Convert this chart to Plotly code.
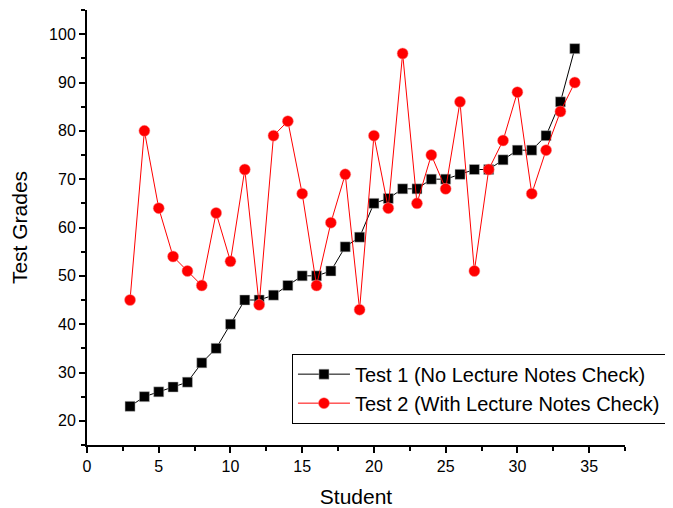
import plotly.graph_objects as go

students = list(range(3, 35))
test1 = [23, 25, 26, 27, 28, 32, 35, 40, 45, 45, 46, 48, 50, 50, 51, 56, 58, 65,
         66, 68, 68, 70, 70, 71, 72, 72, 74, 76, 76, 79, 86, 97]
test2 = [45, 80, 64, 54, 51, 48, 63, 53, 72, 44, 79, 82, 67, 48, 61, 71, 43, 79,
         64, 96, 65, 75, 68, 86, 51, 72, 78, 88, 67, 76, 84, 90]

FONT = "Liberation Sans, Arial"

fig = go.Figure()
fig.add_trace(go.Scatter(x=students, y=test1, mode="lines+markers",
                         name="Test 1 (No Lecture Notes Check)",
                         line=dict(color="black", width=1),
                         marker=dict(symbol="square", size=10, color="black",
                                     line=dict(color="#bbbbbb", width=0.5))))
fig.add_trace(go.Scatter(x=students, y=test2, mode="lines+markers",
                         name="Test 2 (With Lecture Notes Check)",
                         line=dict(color="red", width=1),
                         marker=dict(symbol="circle", size=11, color="red",
                                     line=dict(color="#ff8888", width=0.5))))

axis_common = dict(showline=True, linecolor="black", linewidth=2, ticks="outside",
                   ticklen=6, tickwidth=2, tickcolor="black", showgrid=False,
                   zeroline=False, mirror=False,
                   tickfont=dict(family=FONT, size=16, color="black"))

fig.update_layout(
    width=673, height=508,
    margin=dict(l=79, r=56, t=2, b=71, autoexpand=False),
    plot_bgcolor="white", paper_bgcolor="white",
    font=dict(family=FONT, color="black"),
    xaxis=dict(range=[0, 37.5], tick0=0, dtick=5,
               minor=dict(ticks="outside", ticklen=4, tickwidth=1.5, tickcolor="black", dtick=2.5),
               title=dict(text="Student", font=dict(size=21), standoff=15),
               **axis_common),
    yaxis=dict(range=[15, 105], tick0=0, dtick=10,
               minor=dict(ticks="outside", ticklen=4, tickwidth=1.5, tickcolor="black", dtick=5),
               title=dict(text="Test Grades", font=dict(size=21), standoff=18),
               **axis_common),
    legend=dict(x=0.381, y=0.21, xanchor="left", yanchor="top",
                bordercolor="black", borderwidth=1, bgcolor="white",
                font=dict(size=20, family=FONT),
                tracegroupgap=0, itemwidth=52),
    showlegend=True,
)

fig.write_html("out.html")
